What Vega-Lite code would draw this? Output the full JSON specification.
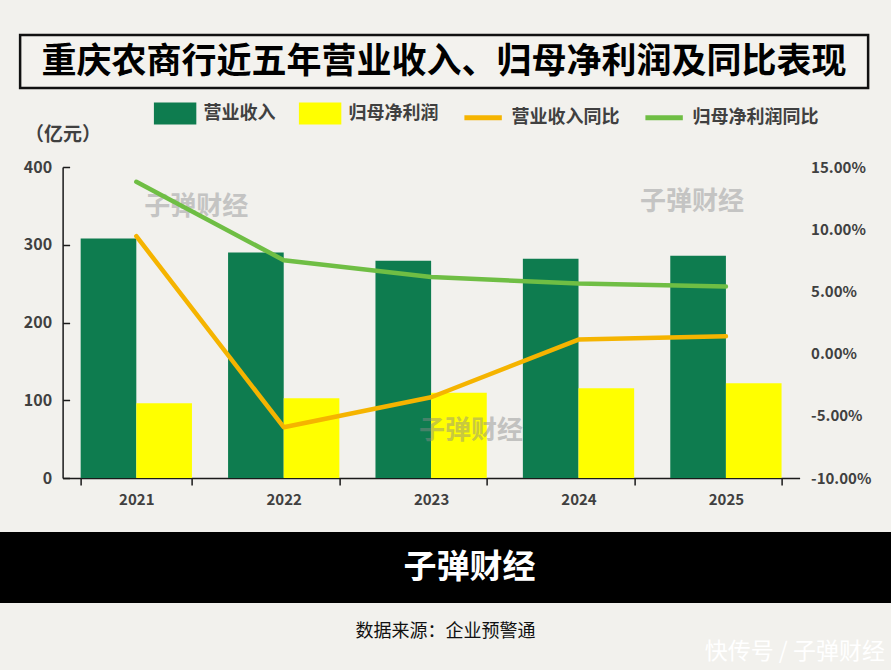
{
  "$schema": "https://vega.github.io/schema/vega-lite/v6.json",
  "background": "#f2f1ed",
  "padding": {"left": 0, "right": 0, "top": 33, "bottom": 6},
  "config": {
    "font": "Noto Sans CJK SC",
    "view": {"stroke": null}
  },
  "datasets": {
    "bars": [
      {"year": "2021", "series": "营业收入", "value": 308},
      {"year": "2021", "series": "归母净利润", "value": 96},
      {"year": "2022", "series": "营业收入", "value": 290},
      {"year": "2022", "series": "归母净利润", "value": 102.5},
      {"year": "2023", "series": "营业收入", "value": 279.5},
      {"year": "2023", "series": "归母净利润", "value": 109.5},
      {"year": "2024", "series": "营业收入", "value": 282},
      {"year": "2024", "series": "归母净利润", "value": 115.5},
      {"year": "2025", "series": "营业收入", "value": 286},
      {"year": "2025", "series": "归母净利润", "value": 122}
    ],
    "lines": [
      {"year": "2021", "series": "营业收入同比", "pct": 0.0944},
      {"year": "2022", "series": "营业收入同比", "pct": -0.0592},
      {"year": "2023", "series": "营业收入同比", "pct": -0.0351},
      {"year": "2024", "series": "营业收入同比", "pct": 0.0113},
      {"year": "2025", "series": "营业收入同比", "pct": 0.014},
      {"year": "2021", "series": "归母净利润同比", "pct": 0.1381},
      {"year": "2022", "series": "归母净利润同比", "pct": 0.0751},
      {"year": "2023", "series": "归母净利润同比", "pct": 0.0615},
      {"year": "2024", "series": "归母净利润同比", "pct": 0.0564},
      {"year": "2025", "series": "归母净利润同比", "pct": 0.054}
    ]
  },
  "title": {
    "text": "快传号 / 子弹财经",
    "orient": "bottom",
    "anchor": "end",
    "color": "#ffffff",
    "fontSize": 23,
    "fontWeight": "normal",
    "offset": 0,
    "dx": -6
  },
  "spacing": 25,
  "center": true,
  "resolve": {"scale": {"color": "independent"}, "legend": {"color": "independent"}},
  "vconcat": [
    {
      "spacing": 79,
      "center": true,
      "bounds": "flush",
      "resolve": {"scale": {"color": "independent"}, "legend": {"color": "independent"}},
      "vconcat": [
        {
          "width": 848,
          "height": 53,
          "view": {"stroke": "#111111", "strokeWidth": 2.5, "fill": "#f3f2ee"},
          "data": {"values": [{"t": "重庆农商行近五年营业收入、归母净利润及同比表现"}]},
          "mark": {"type": "text", "fontSize": 35, "fontWeight": "bold", "color": "#000000"},
          "encoding": {"text": {"field": "t"}}
        },
        {
          "width": 763,
          "height": 311,
          "layer": [
            {
              "layer": [
                {
                  "data": {"name": "bars"},
                  "mark": {"type": "bar"},
                  "encoding": {
                    "x": {
                      "field": "year",
                      "type": "nominal",
                      "scale": {"paddingInner": 0.245, "paddingOuter": 0.1225, "range": [0, 737]},
                      "axis": {
                        "title": null,
                        "labelAngle": 0,
                        "labelFontSize": 15,
                        "labelFontWeight": "bold",
                        "labelColor": "#404040",
                        "labelPadding": 7,
                        "domainColor": "#1a1a1a",
                        "domainWidth": 1.5,
                        "tickColor": "#1a1a1a",
                        "tickWidth": 1.5,
                        "tickSize": 7,
                        "tickBand": "extent"
                      }
                    },
                    "xOffset": {
                      "field": "series",
                      "type": "nominal",
                      "scale": {"domain": ["营业收入", "归母净利润"], "paddingInner": 0}
                    },
                    "y": {
                      "field": "value",
                      "type": "quantitative",
                      "scale": {"domain": [0, 400], "nice": false},
                      "axis": {
                        "values": [0, 100, 200, 300, 400],
                        "grid": false,
                        "title": "（亿元）",
                        "titleAngle": 0,
                        "titleAlign": "left",
                        "titleBaseline": "middle",
                        "titleX": -38,
                        "titleY": -33,
                        "titleFontSize": 19,
                        "titleFontWeight": "bold",
                        "titleColor": "#404040",
                        "labelFontSize": 16,
                        "labelFontWeight": "bold",
                        "labelColor": "#404040",
                        "labelPadding": 18,
                        "domainColor": "#1a1a1a",
                        "domainWidth": 1.5,
                        "tickColor": "#1a1a1a",
                        "tickWidth": 1.5,
                        "tickSize": -7
                      }
                    },
                    "color": {
                      "field": "series",
                      "type": "nominal",
                      "scale": {
                        "domain": ["营业收入", "归母净利润", "营业收入同比", "归母净利润同比"],
                        "range": ["#0e7c4f", "#ffff00", "#f5b400", "#6fbe44"]
                      },
                      "legend": {
                        "title": null,
                        "orient": "none",
                        "direction": "horizontal",
                        "legendX": 91,
                        "legendY": -75,
                        "padding": 0,
                        "symbolSize": 1400,
                        "labelFontSize": 18,
                        "labelFontWeight": "bold",
                        "labelColor": "#404040",
                        "labelOffset": 7,
                        "columnPadding": 15,
                        "encode": {
                          "symbols": {
                            "update": {
                              "shape": {"signal": "datum.value === '营业收入' || datum.value === '归母净利润' ? 'M-1,-0.45L1,-0.45L1,0.45L-1,0.45Z' : 'M-1,0L1,0'"},
                              "fill": {"signal": "datum.value === '营业收入' ? '#0e7c4f' : datum.value === '归母净利润' ? '#ffff00' : 'transparent'"},
                              "stroke": {"signal": "datum.value === '营业收入同比' ? '#f5b400' : datum.value === '归母净利润同比' ? '#6fbe44' : 'transparent'"},
                              "strokeWidth": {"value": 5},
                              "opacity": {"value": 1}
                            }
                          }
                        }
                      }
                    }
                  }
                },
                {
                  "data": {"values": [{"year": "2021", "v": 349, "t": "子弹财经"}]},
                  "mark": {"type": "text", "fontSize": 26, "fontWeight": "bold", "color": "#b5b5b5", "opacity": 0.75, "dx": 60},
                  "encoding": {
                    "x": {"field": "year", "type": "nominal"},
                    "y": {"field": "v", "type": "quantitative"},
                    "text": {"field": "t"}
                  }
                },
                {
                  "data": {"values": [{"year": "2025", "v": 355, "t": "子弹财经"}]},
                  "mark": {"type": "text", "fontSize": 26, "fontWeight": "bold", "color": "#b5b5b5", "opacity": 0.75, "dx": -34},
                  "encoding": {
                    "x": {"field": "year", "type": "nominal"},
                    "y": {"field": "v", "type": "quantitative"},
                    "text": {"field": "t"}
                  }
                },
                {
                  "data": {"values": [{"year": "2023", "v": 60, "t": "子弹财经"}]},
                  "mark": {"type": "text", "fontSize": 26, "fontWeight": "bold", "color": "#8a8a8a", "opacity": 0.45, "dx": 40},
                  "encoding": {
                    "x": {"field": "year", "type": "nominal"},
                    "y": {"field": "v", "type": "quantitative"},
                    "text": {"field": "t"}
                  }
                }
              ]
            },
            {
              "data": {"name": "lines"},
              "mark": {"type": "line", "strokeWidth": 4.5, "strokeCap": "round", "strokeJoin": "round"},
              "encoding": {
                "x": {"field": "year", "type": "nominal"},
                "y": {
                  "field": "pct",
                  "type": "quantitative",
                  "scale": {"domain": [-0.1, 0.15], "nice": false},
                  "axis": {
                    "orient": "right",
                    "offset": -26,
                    "values": [-0.1, -0.05, 0, 0.05, 0.1, 0.15],
                    "format": ".2%",
                    "labelExpr": "replace(datum.label, '−', '-')",
                    "grid": false,
                    "title": null,
                    "domain": false,
                    "ticks": false,
                    "labelPadding": 11,
                    "labelFontSize": 15,
                    "labelFontWeight": "bold",
                    "labelColor": "#404040"
                  }
                },
                "color": {"field": "series", "type": "nominal"}
              }
            }
          ],
          "resolve": {"scale": {"y": "independent"}}
        }
      ]
    },
    {
      "width": 891,
      "height": 71,
      "view": {"fill": "#000000", "stroke": null},
      "title": {
        "text": "数据来源：企业预警通",
        "orient": "bottom",
        "anchor": "middle",
        "fontSize": 18,
        "fontWeight": "normal",
        "color": "#111111",
        "offset": 20
      },
      "data": {"values": [{"t": "子弹财经"}]},
      "mark": {"type": "text", "fontSize": 33, "fontWeight": "bold", "color": "#ffffff", "dx": 24},
      "encoding": {"text": {"field": "t"}}
    }
  ]
}
